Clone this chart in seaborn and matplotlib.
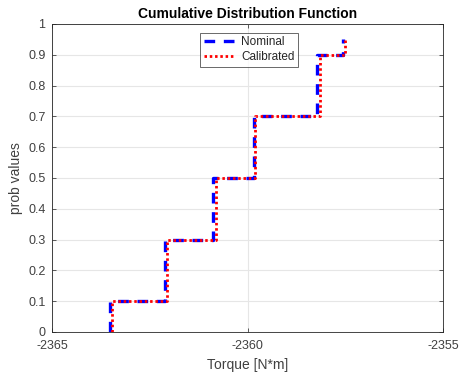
import matplotlib
matplotlib.use("Agg")
import matplotlib.pyplot as plt
import seaborn as sns
import pandas as pd

sns.set_style("white")
plt.rcParams['font.family'] = ['Liberation Sans', 'DejaVu Sans']

# Data: step locations (torque) and cumulative probabilities
prob = [0.0, 0.1, 0.3, 0.5, 0.7, 0.9, 0.95]
nominal_x = [-2363.52, -2363.52, -2362.12, -2360.88, -2359.83, -2358.23, -2357.57]
calibrated_x = [-2363.47, -2363.47, -2362.08, -2360.81, -2359.81, -2358.15, -2357.51]

x_ticks = [-2365, -2360, -2355]
y_ticks = [0, 0.1, 0.2, 0.3, 0.4, 0.5, 0.6, 0.7, 0.8, 0.9, 1]

df_nom = pd.DataFrame({"x": nominal_x, "y": prob})
df_cal = pd.DataFrame({"x": calibrated_x, "y": prob})

fig = plt.figure(figsize=(4.62, 3.75), dpi=100)
ax = fig.add_axes([0.1136, 0.1147, 0.8453, 0.8213])

sns.lineplot(data=df_nom, x="x", y="y", ax=ax, estimator=None, sort=False,
             drawstyle="steps-post", color="#0000ff", linewidth=2.4,
             linestyle=(0, (3.2, 2.6)), label="Nominal")
sns.lineplot(data=df_cal, x="x", y="y", ax=ax, estimator=None, sort=False,
             drawstyle="steps-post", color="#ff0000", linewidth=2.0,
             linestyle=(0, (0.9, 1.0)), label="Calibrated")

ax.set_xlim(-2365, -2355)
ax.set_ylim(0, 1)
ax.set_xticks(x_ticks)
ax.set_xticklabels([str(v) for v in x_ticks])
ax.set_yticks(y_ticks)
ax.set_yticklabels(["0", "0.1", "0.2", "0.3", "0.4", "0.5", "0.6", "0.7", "0.8", "0.9", "1"])

ax.grid(True, color="#e6e6e6", linewidth=0.8)
ax.set_axisbelow(True)
for s in ax.spines.values():
    s.set_color("#262626")
    s.set_linewidth(0.6)
ax.tick_params(direction="in", length=3, width=0.6, colors="#404040",
               labelsize=9, top=True, right=True, bottom=True, left=True,
               labeltop=False, labelright=False)
ax.tick_params(axis="x", pad=6)
ax.tick_params(axis="y", pad=5)

ax.set_xlabel("Torque [N*m]", fontsize=10, color="#404040", labelpad=4)
ax.set_ylabel("prob values", fontsize=10, color="#404040", labelpad=4)
ax.set_title("Cumulative Distribution Function", fontsize=10, fontweight="bold",
             color="#000000", pad=4)

leg = ax.legend(loc="upper left", bbox_to_anchor=(0.378, 0.972), fontsize=8.5,
                frameon=True, fancybox=False, edgecolor="#262626",
                handlelength=2.6, borderpad=0.3, labelspacing=0.25,
                handletextpad=0.6, borderaxespad=0)
leg.get_frame().set_linewidth(0.6)
for t in leg.get_texts():
    t.set_color("#262626")

fig.savefig("out.png", dpi=100)
